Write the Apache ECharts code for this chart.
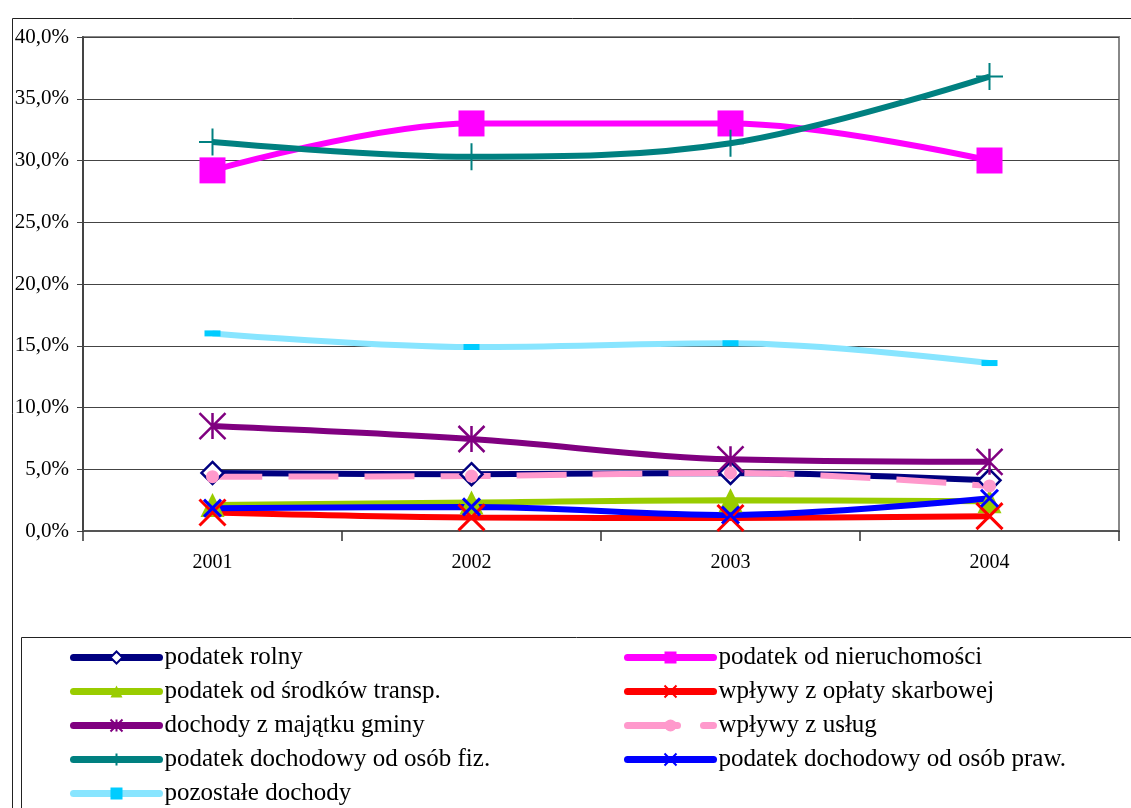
<!DOCTYPE html>
<html>
<head>
<meta charset="utf-8">
<script src="https://cdn.jsdelivr.net/npm/echarts@6/dist/echarts.min.js"></script>
<style>
  html, body { margin: 0; padding: 0; background: #fff; }
  #chart { width: 1131px; height: 808px; }
</style>
</head>
<body>
<div id="chart"></div>
<script>
// Years on the category axis
const years = ['2001', '2002', '2003', '2004'];

// Share of each revenue source in total revenue (%)
const podatekRolny = [4.7, 4.6, 4.7, 4.1];
const podatekNieruchomosci = [29.2, 33.0, 33.0, 30.0];
const podatekSrodkowTransp = [2.1, 2.3, 2.5, 2.4];
const oplataSkarbowa = [1.5, 1.1, 1.05, 1.2];
const majatekGminy = [8.5, 7.45, 5.8, 5.6];
const wplywyUslug = [4.4, 4.45, 4.7, 3.65];
const dochodowyFiz = [31.5, 30.3, 31.4, 36.8];
const dochodowyPraw = [1.85, 1.95, 1.3, 2.65];
const pozostaleDochody = [16.0, 14.9, 15.2, 13.6];

// Value axis ticks
const yMin = 0, yMax = 40, yStep = 5;

const serif = '"Liberation Serif", "Times New Roman", serif';

const crossPath = 'path://M0,0L10,10M10,0L0,10';
const asteriskPath = 'path://M5,0L5,10M0,0L10,10M10,0L0,10';
const plusPath = 'path://M5,0L5,10M0,5L10,5';

function line(name, data, color, symbol, symbolSize, extra) {
  const s = {
    name: name,
    type: 'line',
    data: data,
    smooth: 0.35,
    symbol: symbol,
    symbolSize: symbolSize,
    showSymbol: true,
    lineStyle: { color: color, width: 6 },
    itemStyle: { color: color },
    emphasis: { disabled: true }
  };
  return Object.assign(s, extra || {});
}

const series = [
  line('podatek rolny', podatekRolny, '#000080', 'diamond', 22,
       { itemStyle: { color: '#ffffff', borderColor: '#000080', borderWidth: 2.5 } }),
  line('podatek od nieruchomości', podatekNieruchomosci, '#FF00FF', 'rect', 26),
  line('podatek od środków transp.', podatekSrodkowTransp, '#99CC00', 'triangle', 24),
  line('wpływy z opłaty skarbowej', oplataSkarbowa, '#FF0000', crossPath, 26,
       { itemStyle: { color: 'rgba(0,0,0,0)', borderColor: '#FF0000', borderWidth: 3 } }),
  line('dochody z majątku gminy', majatekGminy, '#800080', asteriskPath, 26,
       { itemStyle: { color: 'rgba(0,0,0,0)', borderColor: '#800080', borderWidth: 2.5 } }),
  line('wpływy z usług', wplywyUslug, '#FF99CC', 'circle', 13,
       { lineStyle: { color: '#FF99CC', width: 6, type: [50, 26] } }),
  line('podatek dochodowy od osób fiz.', dochodowyFiz, '#008080', plusPath, 27,
       { itemStyle: { color: 'rgba(0,0,0,0)', borderColor: '#008080', borderWidth: 2 } }),
  line('podatek dochodowy od osób praw.', dochodowyPraw, '#0000FF', crossPath, 17,
       { itemStyle: { color: 'rgba(0,0,0,0)', borderColor: '#0000FF', borderWidth: 3 } }),
  line('pozostałe dochody', pozostaleDochody, '#88E5FF', 'rect', [16, 6],
       { itemStyle: { color: '#00CCFF' } })
];

const legendLeft = [series[0].name, series[2].name, series[4].name, series[6].name, series[8].name];
const legendRight = [series[1].name, series[3].name, series[5].name, series[7].name];

const legendCommon = {
  orient: 'vertical',
  top: 645,
  height: 165,
  padding: 0,
  itemWidth: 86,
  itemHeight: 15,
  itemGap: 9,
  selectedMode: false,
  lineStyle: { width: 7, cap: 'round' },
  textStyle: { fontFamily: serif, fontSize: 25, color: '#000', lineHeight: 24 }
};

const chart = echarts.init(document.getElementById('chart'), null, { renderer: 'canvas' });
chart.setOption({
  backgroundColor: '#ffffff',
  animation: false,
  graphic: [
    { type: 'rect', left: 10, top: 16, shape: { width: 1140, height: 820 },
      style: { fill: 'none', stroke: '#222', lineWidth: 1 }, z: -1 },
    { type: 'rect', left: 19, top: 635, shape: { width: 1110, height: 200 },
      style: { fill: 'none', stroke: '#222', lineWidth: 1 }, z: -1 }
  ],
  legend: [
    Object.assign({ left: 70, data: legendLeft }, legendCommon),
    Object.assign({ left: 624, data: legendRight }, legendCommon)
  ],
  grid: {
    left: 83, top: 37, width: 1036, height: 494,
    show: true, borderColor: '#888', borderWidth: 2, backgroundColor: '#fff'
  },
  xAxis: {
    type: 'category',
    data: years,
    boundaryGap: true,
    axisLine: { lineStyle: { color: '#555', width: 2 } },
    axisTick: { show: true, length: 10, lineStyle: { color: '#333', width: 1.5 } },
    axisLabel: { fontFamily: serif, fontSize: 20, color: '#000', margin: 22 },
    splitLine: { show: false }
  },
  yAxis: {
    type: 'value',
    min: yMin, max: yMax, interval: yStep,
    axisLine: { show: true, lineStyle: { color: '#444', width: 2 } },
    axisTick: { show: true, length: 6, lineStyle: { color: '#444' } },
    axisLabel: {
      fontFamily: serif, fontSize: 21, color: '#000', margin: 14,
      formatter: v => v.toFixed(1).replace('.', ',') + '%'
    },
    splitLine: { show: true, lineStyle: { color: '#444', width: 1 } }
  },
  series: series
});
</script>
</body>
</html>
